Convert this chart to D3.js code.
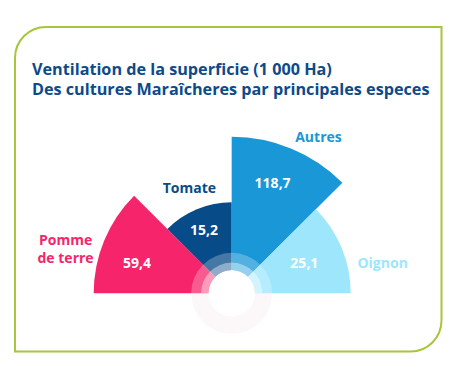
<!DOCTYPE html>
<html>
<head>
<meta charset="utf-8">
<script src="https://cdn.jsdelivr.net/npm/d3@7"></script>
<style>
    body { margin: 0; background: #fff; }
    svg { display: block; font-family: "Open Sans", sans-serif; }
</style>
</head>
<body>
<svg id="chart" width="454" height="369"></svg>
<script>
// data
const categories = ["Pomme de terre", "Tomate", "Autres", "Oignon"];
const values = [59.4, 15.2, 118.7, 25.1];
const valueLabels = ["59,4", "15,2", "118,7", "25,1"];
const titleLines = [
    "Ventilation de la superficie (1 000 Ha)",
    "Des cultures Maraîcheres par principales especes"
];

// style
const colors = ["#f6256b", "#084b89", "#1997d7", "#9ee6fc"];
const radiusRange = [91, 119, 138, 156.5];   // drawn size for sorted values
const labelPolar = [[-75, 172], [-22, 113], [29, 179], [78.6, 154]]; // [deg, dist]
const valuePolar = [[-72.4, 0.72], [-23.7, 0.76], [20.4, 0.75], [67.7, 0.66]]; // [deg, share of radius]
const CX = 231.7, CY = 293.3;

const svg = d3.select("#chart");

const polar = (deg, dist) => {
    const a = deg * Math.PI / 180;
    return [dist * Math.sin(a), -dist * Math.cos(a)];
};

// ─── FRAME ───
const x0 = 15, y0 = 27, x1 = 441.5, y1 = 351.5, rr = 31;
svg.append("path")
    .attr("d", `M${x0},${y1} L${x0},${y0 + rr} A${rr},${rr} 0 0 1 ${x0 + rr},${y0}
        L${x1},${y0} L${x1},${y1 - rr} A${rr},${rr} 0 0 1 ${x1 - rr},${y1} Z`)
    .attr("fill", "none")
    .attr("stroke", "#a6c63b")
    .attr("stroke-width", 2);

// ─── TITLE ───
svg.append("g").selectAll("text")
    .data(titleLines)
    .join("text")
    .attr("x", 32)
    .attr("y", (d, i) => 75 + i * 20)
    .attr("fill", "#0c4a8a")
    .attr("font-size", 16.2)
    .attr("font-weight", 700)
    .text(d => d);

// ─── WEDGES ───
const r = d3.scaleLinear()
    .domain(values.slice().sort(d3.ascending))
    .range(radiusRange);

const pie = d3.pie()
    .value(1)
    .sort(null)
    .startAngle(-Math.PI / 2)
    .endAngle(Math.PI / 2);

const arcs = pie(values.map((v, i) => ({ v, i })));

const arc = d3.arc()
    .innerRadius(0)
    .outerRadius(d => r(d.data.v));

const g = svg.append("g").attr("transform", `translate(${CX},${CY})`);

g.selectAll("path.wedge")
    .data(arcs)
    .join("path")
    .attr("class", "wedge")
    .attr("d", arc)
    .attr("fill", d => colors[d.data.i]);

// center rings
const ring = d3.arc().startAngle(-Math.PI / 2).endAngle(Math.PI / 2);
const lower = d3.arc().startAngle(Math.PI / 2).endAngle(Math.PI * 1.5);
g.append("path")
    .attr("d", ring({ innerRadius: 30.7, outerRadius: 40.5 }))
    .attr("fill", "#fff").attr("opacity", 0.25);
g.append("path")
    .attr("d", ring({ innerRadius: 23.3, outerRadius: 30.7 }))
    .attr("fill", "#fff").attr("opacity", 0.55);
g.append("circle").attr("r", 23.3).attr("fill", "#fff");
g.append("path")
    .attr("d", lower({ innerRadius: 23.3, outerRadius: 40.5 }))
    .attr("fill", "#f6e8ef").attr("opacity", 0.3);

// value labels
g.selectAll("text.value")
    .data(arcs)
    .join("text")
    .attr("class", "value")
    .attr("transform", d => {
        const p = valuePolar[d.data.i];
        return `translate(${polar(p[0], p[1] * r(d.data.v))})`;
    })
    .attr("text-anchor", "middle")
    .attr("dy", "0.35em")
    .attr("fill", "#fff")
    .attr("font-size", 14)
    .attr("font-weight", 700)
    .text(d => valueLabels[d.data.i]);

// category labels
const catLabels = g.selectAll("text.cat")
    .data(categories)
    .join("text")
    .attr("class", "cat")
    .attr("transform", (d, i) => `translate(${polar(labelPolar[i][0], labelPolar[i][1])})`)
    .attr("text-anchor", "middle")
    .attr("fill", (d, i) => colors[i])
    .attr("font-size", 14)
    .attr("font-weight", 700);

catLabels.each(function(d) {
    const words = d === "Pomme de terre" ? ["Pomme", "de terre"] : [d];
    const t = d3.select(this);
    words.forEach((w, k) => {
        t.append("tspan")
            .attr("x", 0)
            .attr("dy", k === 0 ? `${0.35 - (words.length - 1) * 0.65}em` : "1.3em")
            .text(w);
    });
});
</script>
</body>
</html>
